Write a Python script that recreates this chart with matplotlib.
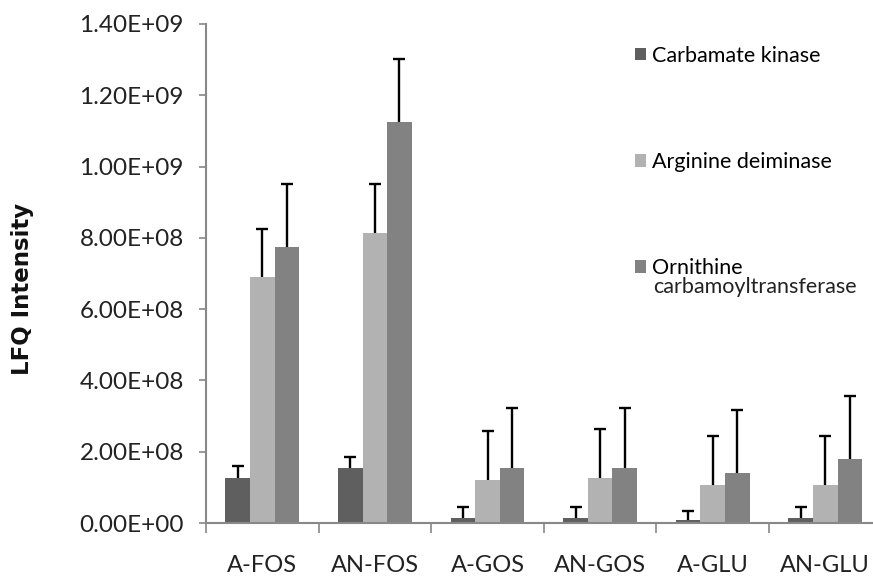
import matplotlib
matplotlib.use("Agg")
import matplotlib.pyplot as plt
import numpy as np
from matplotlib.patches import Patch

categories = ["A-FOS", "AN-FOS", "A-GOS", "AN-GOS", "A-GLU", "AN-GLU"]
series_names = ["Carbamate kinase", "Arginine deiminase", "Ornithine"]
series_name_cont = "carbamoyltransferase"

carbamate_kinase = [1.27e8, 1.53e8, 0.13e8, 0.13e8, 0.08e8, 0.13e8]
arginine_deiminase = [6.91e8, 8.14e8, 1.21e8, 1.27e8, 1.07e8, 1.07e8]
ornithine_ctase = [7.75e8, 11.24e8, 1.53e8, 1.53e8, 1.40e8, 1.80e8]

carbamate_kinase_err = [0.33e8, 0.32e8, 0.33e8, 0.33e8, 0.25e8, 0.33e8]
arginine_deiminase_err = [1.35e8, 1.37e8, 1.36e8, 1.38e8, 1.36e8, 1.36e8]
ornithine_ctase_err = [1.77e8, 1.78e8, 1.70e8, 1.70e8, 1.77e8, 1.75e8]

yticks = [0, 2e8, 4e8, 6e8, 8e8, 10e8, 12e8, 14e8]
ytick_labels = ["0.00E+00", "2.00E+08", "4.00E+08", "6.00E+08",
                "8.00E+08", "1.00E+09", "1.20E+09", "1.40E+09"]

colors = ["#5f5f5f", "#b2b2b2", "#828282"]

plt.rcParams["font.family"] = ["Lato", "DejaVu Sans"]

fig = plt.figure(figsize=(8.73, 5.80), dpi=100)
ax = fig.add_axes([206 / 873, 1 - 523 / 580, 675.6 / 873, (523 - 24) / 580])

x = np.arange(len(categories))
w = 0.218
values = [carbamate_kinase, arginine_deiminase, ornithine_ctase]
errors = [carbamate_kinase_err, arginine_deiminase_err, ornithine_ctase_err]
for i, (vals, errs, c) in enumerate(zip(values, errors, colors)):
    pos = x + (i - 1) * w
    vals = np.asarray(vals)
    errs = np.asarray(errs)
    ax.bar(pos, vals, width=w, color=c, zorder=2)
    eb = ax.errorbar(pos, vals, yerr=[np.zeros(len(vals)), errs], fmt="none",
                     ecolor="black", elinewidth=1.7, capsize=4.5,
                     capthick=1.7, zorder=3)
    # upper error only: hide the cap sitting on the bar top
    for cap in eb[1]:
        if np.allclose(cap.get_ydata(), vals):
            cap.set_visible(False)

ax.set_xlim(-0.5, len(categories) - 0.5)
ax.set_ylim(0, 1.4e9)
ax.set_yticks(yticks)
ax.set_yticklabels(ytick_labels, fontsize=17.5, color="#222222")
ax.set_xticks(x)
ax.set_xticklabels(categories, fontsize=17, color="#222222")
ax.set_xticks(np.arange(len(categories) + 1) - 0.5, minor=True)
ax.tick_params(axis="x", which="major", length=0, pad=23)
ax.tick_params(axis="x", which="minor", length=7, width=1.2, color="#888888",
               direction="out")
ax.tick_params(axis="y", length=5, width=1.2, color="#888888", pad=11)

for s in ["top", "right"]:
    ax.spines[s].set_visible(False)
for s in ["left", "bottom"]:
    ax.spines[s].set_color("#888888")
    ax.spines[s].set_linewidth(1.5)

fig.text(23 / 873, 1 - 289 / 580, "LFQ Intensity", rotation=90, ha="center",
         va="center", fontsize=16.5, fontweight="bold", color="#111111",
         family="DejaVu Sans")

handles = [Patch(facecolor=c, edgecolor="none") for c in colors]
fig.legend(handles, series_names, loc="upper left",
           bbox_to_anchor=(635 / 873, 1 - 46 / 580), frameon=False,
           fontsize=15.5, handlelength=0.5, handleheight=0.5,
           handletextpad=0.3, labelspacing=4.0, borderpad=0,
           borderaxespad=0)
fig.text(653 / 873, 1 - 287 / 580, series_name_cont, ha="left", va="center",
         fontsize=15.5, color="#222222")

fig.savefig("out.png", dpi=100)
